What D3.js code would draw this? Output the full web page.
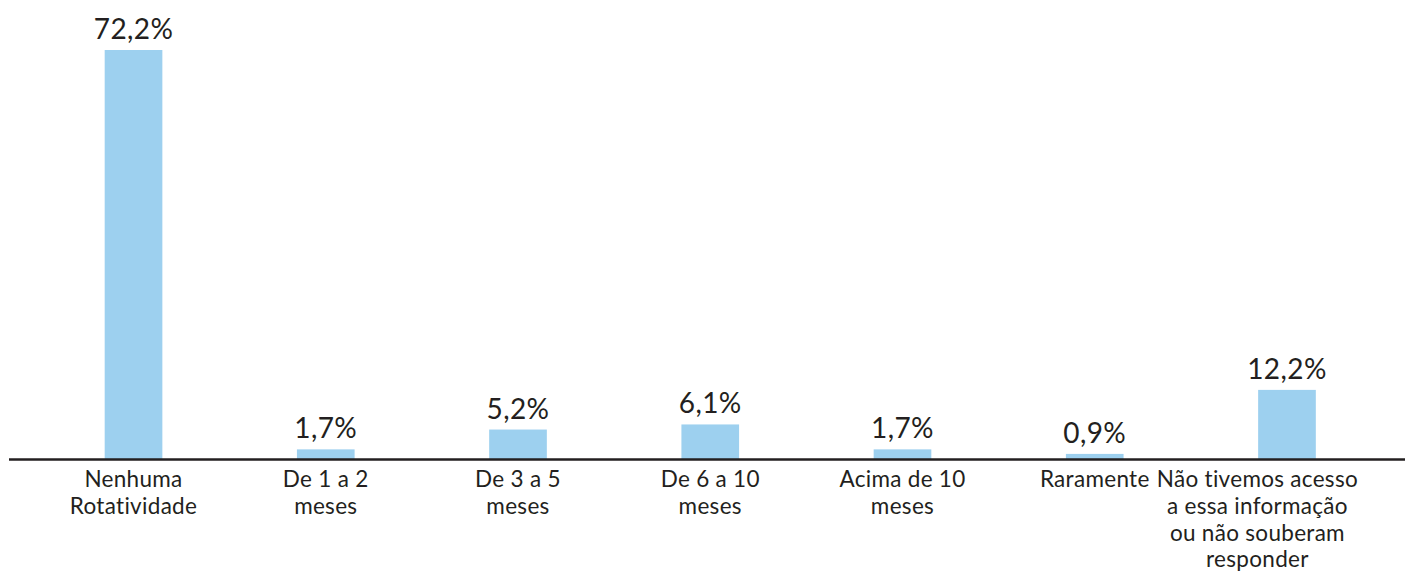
<!DOCTYPE html>
<html>
<head>
<meta charset="utf-8">
<script src="https://cdn.jsdelivr.net/npm/d3@7"></script>
<style>
  html, body { margin: 0; padding: 0; background: #ffffff; }
  svg { display: block; }
</style>
</head>
<body>
<svg id="chart" width="1405" height="580"></svg>
<script>
const categories = [
  "Nenhuma Rotatividade",
  "De 1 a 2 meses",
  "De 3 a 5 meses",
  "De 6 a 10 meses",
  "Acima de 10 meses",
  "Raramente",
  "Não tivemos acesso a essa informação ou não souberam responder"
];
const categoryLines = [
  ["Nenhuma", "Rotatividade"],
  ["De 1 a 2", "meses"],
  ["De 3 a 5", "meses"],
  ["De 6 a 10", "meses"],
  ["Acima de 10", "meses"],
  ["Raramente"],
  ["Não tivemos acesso", "a essa informação", "ou não souberam", "responder"]
];
const values = [72.2, 1.7, 5.2, 6.1, 1.7, 0.9, 12.2];
const valueLabels = ["72,2%", "1,7%", "5,2%", "6,1%", "1,7%", "0,9%", "12,2%"];

const W = 1405, H = 580;
const axisY = 459;
const svg = d3.select("#chart");

const x = d3.scaleBand()
  .domain(categories)
  .range([37.4, 1383.1])
  .paddingInner(0.7)
  .paddingOuter(0.35);

const y = d3.scaleLinear()
  .domain([0, 72.2])
  .range([axisY, 50]);

const textColor = "#231f20";
const barColor = "#9dd0ef";
const font = "Lato, 'Open Sans', sans-serif";

// bars
svg.append("g").selectAll("rect")
  .data(values)
  .join("rect")
  .attr("x", (d, i) => x(categories[i]))
  .attr("y", d => y(d))
  .attr("width", x.bandwidth())
  .attr("height", d => axisY - y(d))
  .attr("fill", barColor);

// value labels
svg.append("g").selectAll("text")
  .data(values)
  .join("text")
  .attr("x", (d, i) => x(categories[i]) + x.bandwidth() / 2)
  .attr("y", d => y(d) - 11)
  .attr("text-anchor", "middle")
  .attr("font-family", font)
  .attr("font-size", 28)
  .attr("letter-spacing", 0.4)
  .attr("fill", textColor)
  .text((d, i) => valueLabels[i]);

// axis line
svg.append("line")
  .attr("x1", 9).attr("x2", W)
  .attr("y1", axisY + 0.5).attr("y2", axisY + 0.5)
  .attr("stroke", textColor)
  .attr("stroke-width", 2.5);

// category labels
const catG = svg.append("g");
categories.forEach((c, i) => {
  const t = catG.append("text")
    .attr("text-anchor", "middle")
    .attr("font-family", font)
    .attr("font-size", 22.5)
    .attr("letter-spacing", 0.3)
    .attr("fill", textColor);
  let cx = x(c) + x.bandwidth() / 2;
  t.selectAll("tspan")
    .data(categoryLines[i])
    .join("tspan")
    .attr("x", cx)
    .attr("y", (d, j) => axisY + 28 + j * 26.8)
    .text(d => d);
  // keep the label within the right edge
  const bb = t.node().getBBox();
  const maxRight = W - 47;
  if (bb.x + bb.width > maxRight) {
    cx -= (bb.x + bb.width - maxRight);
    t.selectAll("tspan").attr("x", cx);
  }
});
</script>
</body>
</html>
